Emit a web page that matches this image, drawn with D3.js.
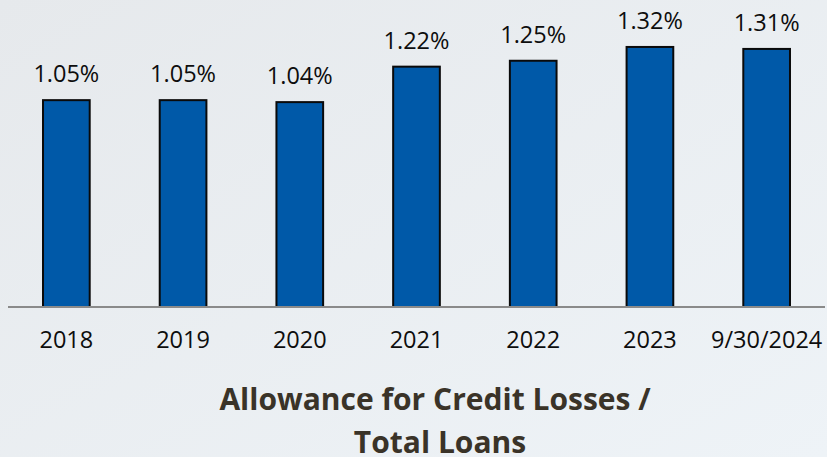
<!DOCTYPE html>
<html>
<head>
<meta charset="utf-8">
<script src="https://cdn.jsdelivr.net/npm/d3@7"></script>
<style>
  html, body { margin: 0; padding: 0; }
  body { width: 827px; height: 457px; overflow: hidden; }
</style>
</head>
<body>
<div id="chart"></div>
<script>
// values
const periods = ["2018", "2019", "2020", "2021", "2022", "2023", "9/30/2024"];
const ratios = [1.05, 1.05, 1.04, 1.22, 1.25, 1.32, 1.31];
const titleLines = ["Allowance for Credit Losses /", "Total Loans"];

const width = 827, height = 457;
const baseY = 307;

const svg = d3.select("#chart").append("svg")
    .attr("width", width)
    .attr("height", height);

let grad = svg.append("defs").append("linearGradient")
    .attr("id", "bg")
    .attr("x1", "0%").attr("y1", "0%")
    .attr("x2", "100%").attr("y2", "100%");
grad.append("stop").attr("offset", "0%").attr("stop-color", "#e6e9ec");
grad.append("stop").attr("offset", "100%").attr("stop-color", "#eef3f7");

svg.append("rect")
    .attr("width", width).attr("height", height)
    .attr("fill", "url(#bg)");

let x = d3.scaleBand()
    .domain(periods)
    .range([8, 825])
    .paddingInner(0.6)
    .paddingOuter(0.3);

let y = d3.scaleLinear()
    .domain([0, 1.5])
    .range([baseY, baseY - 1.5 * 197]);

// bars
svg.selectAll(".bar")
    .data(ratios)
    .join("rect")
    .attr("class", "bar")
    .attr("x", (d, i) => x(periods[i]))
    .attr("y", d => y(d))
    .attr("width", x.bandwidth())
    .attr("height", d => y(0) - y(d))
    .attr("fill", "#0059a8")
    .attr("stroke", "#0a0a0a")
    .attr("stroke-width", 2);

// baseline
svg.append("line")
    .attr("x1", x.range()[0]).attr("x2", x.range()[1])
    .attr("y1", y(0)).attr("y2", y(0))
    .attr("stroke", "#8a8a8a")
    .attr("stroke-width", 2);

// value labels
svg.selectAll(".val")
    .data(ratios)
    .join("text")
    .attr("class", "val")
    .attr("x", (d, i) => x(periods[i]) + x.bandwidth() / 2)
    .attr("y", d => y(d) - 18)
    .attr("text-anchor", "middle")
    .style("font-family", "'Open Sans', sans-serif")
    .style("font-size", "23.5px")
    .attr("fill", "#0d0d0d")
    .text(d => d.toFixed(2) + "%");

// category labels
svg.selectAll(".cat")
    .data(periods)
    .join("text")
    .attr("class", "cat")
    .attr("x", d => x(d) + x.bandwidth() / 2)
    .attr("y", baseY + 41)
    .attr("text-anchor", "middle")
    .style("font-family", "'Open Sans', sans-serif")
    .style("font-size", "23.5px")
    .attr("fill", "#0d0d0d")
    .text(d => d);

// title under the chart
svg.selectAll(".title")
    .data(titleLines)
    .join("text")
    .attr("class", "title")
    .attr("x", (d, i) => i === 0 ? 435 : 440)
    .attr("y", (d, i) => 410 + i * 43)
    .attr("text-anchor", "middle")
    .style("font-family", "'Open Sans', sans-serif")
    .style("font-size", "30px")
    .style("font-weight", "bold")
    .attr("fill", "#3a3328")
    .text(d => d);
</script>
</body>
</html>
